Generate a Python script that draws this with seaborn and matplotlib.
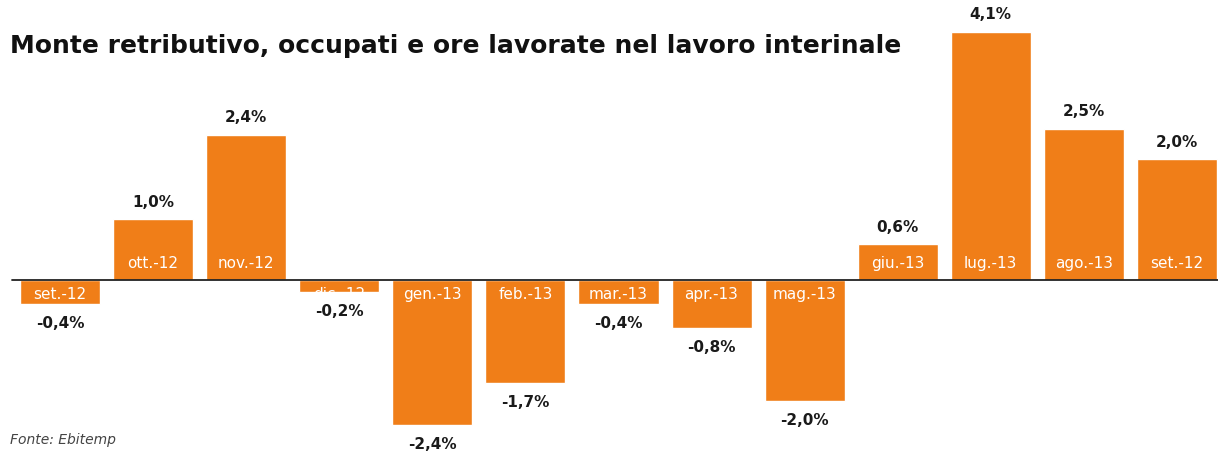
import matplotlib
matplotlib.use("Agg")
import matplotlib.pyplot as plt
import seaborn as sns
import pandas as pd

categories = ["set.-12", "ott.-12", "nov.-12", "dic.-12", "gen.-13", "feb.-13", "mar.-13",
              "apr.-13", "mag.-13", "giu.-13", "lug.-13", "ago.-13", "set.-12"]
values = [-0.4, 1.0, 2.4, -0.2, -2.4, -1.7, -0.4, -0.8, -2.0, 0.6, 4.1, 2.5, 2.0]
value_labels = ["-0,4%", "1,0%", "2,4%", "-0,2%", "-2,4%", "-1,7%", "-0,4%", "-0,8%",
                "-2,0%", "0,6%", "4,1%", "2,5%", "2,0%"]

title = "Monte retributivo, occupati e ore lavorate nel lavoro interinale"
source = "Fonte: Ebitemp"

sns.set_theme(style="white")
plt.rcParams['font.family'] = ['DejaVu Sans']

W, H, DPI = 1218, 452, 100
fig = plt.figure(figsize=(W / DPI, H / DPI), dpi=DPI)
ax = fig.add_axes([0, 0, 1, 1])

df = pd.DataFrame({"pos": list(range(len(values))), "value": values})
bar_color = "#F07E18"
sns.barplot(data=df, x="pos", y="value", color=bar_color, width=0.86,
            saturation=1, ax=ax, errorbar=None)

step = 93.08
x0 = -60 / step
ax.set_xlim(x0, x0 + W / step)
ppu = 60.6
zero_from_bottom = 171
ax.set_ylim(-zero_from_bottom / ppu, (H - zero_from_bottom) / ppu)
ax.axis("off")

# zero line
ax.plot([x0 + 12 / step, x0 + W / step], [0, 0], color="#222222", lw=1.3, zorder=3)

for i, (patch, v, cat, lab) in enumerate(zip(ax.patches, values, categories, value_labels)):
    cx = patch.get_x() + patch.get_width() / 2
    if v >= 0:
        t = ax.text(cx, 0.29, cat, ha="center", va="center", color="white",
                    fontsize=11, zorder=4)
        ax.text(cx, v + 0.29, lab, ha="center", va="center", color="#1a1a1a",
                fontsize=11, fontweight="bold")
    else:
        t = ax.text(cx, -0.22, cat, ha="center", va="center", color="white",
                    fontsize=11, zorder=4)
        ax.text(cx, v - 0.3, lab, ha="center", va="center", color="#1a1a1a",
                fontsize=11, fontweight="bold")
    t.set_clip_path(patch)

fig.text(10 / W, 1 - 46 / H, title, ha="left", va="center", fontsize=18,
         fontweight="bold", color="#111111")
fig.text(10 / W, 1 - 440 / H, source, ha="left", va="center", fontsize=10,
         style="italic", color="#444444")

fig.savefig("out.png", dpi=DPI)
